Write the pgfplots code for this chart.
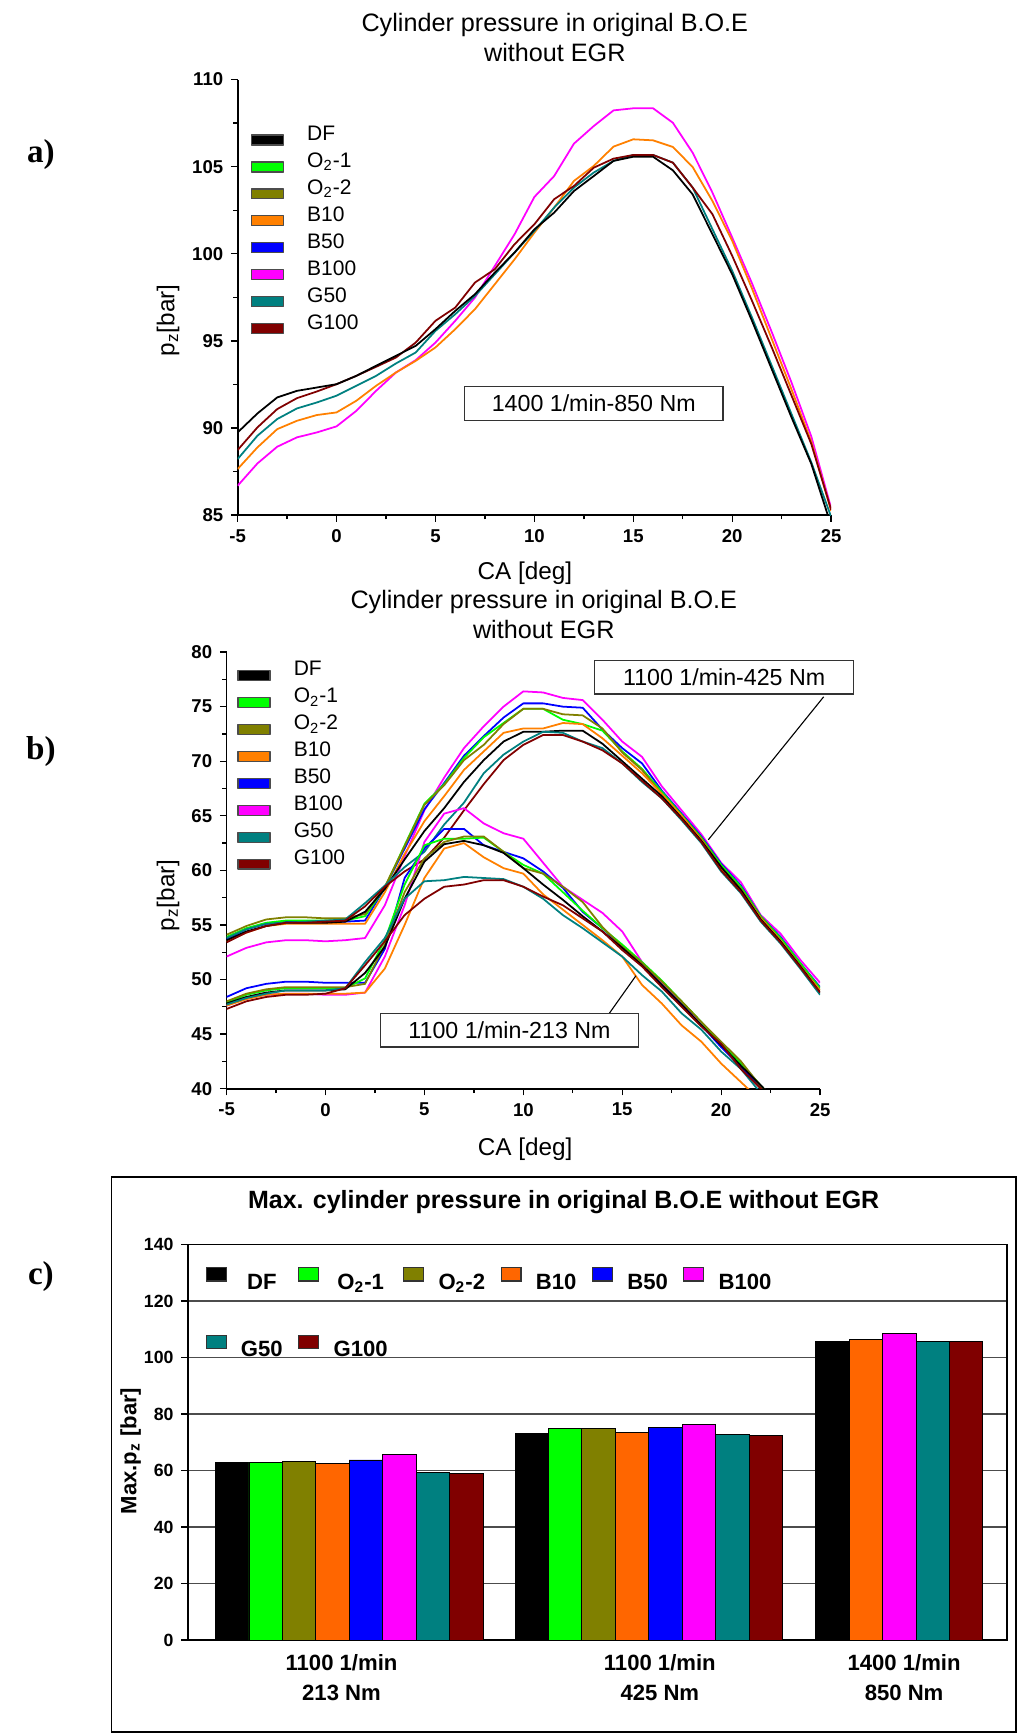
\documentclass[border=0pt]{standalone}
\usepackage{fontspec}
\setmainfont{Liberation Sans}
\newfontfamily\serifb{Liberation Serif}
\usepackage{pgfplots}
\usepackage{pgfplotstable}
\pgfplotsset{compat=1.18}

\definecolor{cDF}{RGB}{0,0,0}
\definecolor{cOa}{RGB}{0,255,0}
\definecolor{cOb}{RGB}{128,128,0}
\definecolor{cBa}{RGB}{255,128,0}
\definecolor{cBaBar}{RGB}{255,102,0}
\definecolor{cBb}{RGB}{0,0,255}
\definecolor{cBc}{RGB}{255,0,255}
\definecolor{cGa}{RGB}{0,128,128}
\definecolor{cGb}{RGB}{128,0,0}

% 1400 1/min - 850 Nm
\pgfplotstableread{
x   DF     B10    B100   G50    G100
-5  89.74  87.64  86.68  88.21  88.73
-4  90.83  88.88  87.96  89.55  90.03
-3  91.75  89.93  88.92  90.51  91.08
-2  92.13  90.41  89.46  91.12  91.71
-1  92.32  90.74  89.74  91.46  92.09
0   92.51  90.89  90.09  91.85  92.51
1   92.99  91.56  90.98  92.42  92.99
2   93.57  92.42  92.13  92.99  93.51
3   94.14  93.18  93.18  93.70  94.04
4   94.71  93.85  93.89  94.33  94.90
5   95.67  94.62  94.90  95.57  96.15
6   96.72  95.67  96.15  96.53  96.91
7   97.68  96.82  97.49  97.58  98.35
8   98.92  98.25  99.30  98.82  99.11
9   100.07 99.68  101.12 100.07 100.55
10  101.40 101.21 103.26 101.31 101.69
11  102.36 102.65 104.46 102.65 103.13
12  103.60 104.18 106.32 103.80 103.89
13  104.46 105.04 107.33 104.66 104.94
14  105.33 106.15 108.23 105.33 105.46
15  105.57 106.57 108.35 105.67 105.67
16  105.57 106.51 108.35 105.67 105.67
17  104.79 106.13 107.52 105.23 105.23
18  103.41 104.98 105.80 103.80 103.80
19  101.12 103.03 103.51 101.41 102.27
20  98.82  100.74 100.93 99.02  99.88
21  96.15  98.00  98.30  96.34  97.30
22  93.37  95.10  95.50  93.57  94.62
23  90.60  92.20  92.60  90.79  91.85
24  87.93  89.20  89.50  88.02  89.07
25  84.40  85.25  85.40  84.90  85.30
}\tblA

% 1100 1/min: h = 425 Nm, l = 213 Nm
\pgfplotstableread{
x   hDF  hOa  hOb  hBa  hBb  hBc  hGa  hGb  lDF  lOa  lOb  lBa  lBb  lBc  lGa  lGb
-5  53.6 53.9 54.1 53.5 53.7 52.1 53.8 53.4 47.8 47.9 48.0 47.6 48.4 47.6 47.7 47.3
-4  54.4 54.7 54.9 54.3 54.6 52.9 54.6 54.3 48.4 48.6 48.7 48.2 49.2 48.3 48.3 48.0
-3  54.9 55.2 55.5 54.9 55.1 53.4 55.1 54.9 48.8 49.0 49.1 48.6 49.6 48.6 48.7 48.4
-2  55.2 55.4 55.7 55.1 55.3 53.6 55.2 55.2 49.0 49.2 49.3 48.7 49.8 48.7 49.0 48.6
-1  55.2 55.4 55.7 55.1 55.3 53.6 55.3 55.2 49.0 49.2 49.3 48.7 49.8 48.7 49.0 48.6
0   55.2 55.4 55.6 55.1 55.3 53.5 55.4 55.3 49.0 49.2 49.3 48.7 49.7 48.6 49.0 48.7
1   55.3 55.4 55.6 55.1 55.3 53.6 55.5 55.4 49.1 49.2 49.3 48.7 49.7 48.6 49.2 49.2
2   56.2 55.8 56.0 55.1 55.4 53.8 57.0 56.7 50.6 50.1 49.6 48.8 49.7 48.8 51.6 51.3
3   58.3 58.4 58.5 58.0 58.4 56.8 58.6 58.5 53.0 53.6 53.2 51.0 52.8 52.1 53.8 53.5
4   61.0 62.3 62.2 61.5 62.0 61.3 60.3 59.9 57.4 58.7 58.0 55.0 59.3 56.8 57.4 55.9
5   63.6 66.1 66.0 64.5 65.6 65.5 61.7 61.0 60.8 62.3 61.1 59.3 62.0 62.6 59.0 57.4
6   65.7 67.9 67.8 66.8 68.0 68.5 64.2 63.0 62.4 62.9 62.6 62.0 63.8 65.2 59.1 58.5
7   68.1 70.3 70.1 69.2 70.5 71.2 66.2 65.5 62.7 62.9 63.1 62.5 63.8 65.7 59.4 58.7
8   70.1 72.2 71.5 70.9 72.3 73.2 68.9 67.9 62.3 63.0 63.1 61.2 62.3 64.3 59.3 59.1
9   71.8 73.5 73.4 72.6 74.0 75.0 70.6 70.1 61.6 61.7 61.7 60.2 61.7 63.4 59.2 59.1
10  72.7 74.8 74.8 73.0 75.3 76.4 71.8 71.5 60.2 60.5 60.2 59.7 61.1 62.9 58.5 58.5
11  72.7 74.8 74.8 73.0 75.3 76.3 72.7 72.4 58.7 59.7 59.7 57.8 59.9 60.7 57.4 57.6
12  72.8 73.8 74.3 73.5 75.0 75.8 72.6 72.4 57.3 58.0 58.5 56.4 58.4 58.5 55.9 56.8
13  72.8 73.4 74.2 73.4 74.9 75.6 71.8 71.8 55.8 56.3 57.1 55.0 56.2 57.3 54.7 55.6
14  71.6 72.8 73.0 72.1 72.9 73.8 71.2 71.0 54.4 54.7 54.8 53.6 54.7 56.1 53.4 54.4
15  70.0 70.9 70.8 70.5 71.2 71.8 69.8 69.8 52.9 53.2 53.0 52.1 53.0 54.4 52.1 52.7
16  68.4 69.3 69.2 68.9 69.8 70.4 68.1 68.2 51.3 51.6 51.5 49.5 51.3 51.6 50.4 51.2
17  66.8 67.2 67.0 67.0 67.3 67.7 66.6 66.6 49.5 49.9 49.8 47.8 49.5 49.6 48.9 49.3
18  64.8 65.1 65.0 65.0 65.2 65.5 64.6 64.7 47.7 48.0 48.0 45.8 47.7 47.8 46.9 47.5
19  62.7 63.0 62.9 62.8 63.1 63.3 62.5 62.6 45.8 46.1 46.1 44.3 45.8 46.0 45.4 45.7
20  60.3 60.5 60.3 60.2 60.6 60.7 59.9 60.0 44.0 44.1 44.3 42.3 43.8 44.1 43.4 44.1
21  58.2 58.5 58.3 58.2 58.6 58.9 57.9 58.0 42.1 42.3 42.5 40.6 42.0 42.3 41.8 41.8
22  55.5 55.8 55.7 55.6 55.8 55.9 55.3 55.4 40.3 40.3 40.2 38.9 40.1 40.3 39.6 40.0
23  53.5 53.8 53.6 53.6 53.9 54.2 53.3 53.4 38.4 38.4 38.3 nan  38.3 38.4 nan  38.2
24  51.2 51.5 51.3 51.2 51.5 51.8 51.0 51.1 nan  nan  nan  nan  nan  nan  nan  nan
25  48.8 49.2 49.0 49.0 49.3 49.7 48.6 48.8 nan  nan  nan  nan  nan  nan  nan  nan
}\tblB

\tikzset{
  boxlab/.style={draw=black!80, fill=white, line width=0.6pt, minimum width=117pt,
    minimum height=15.5pt, inner sep=0pt, font=\fontsize{10.5}{11}\selectfont},
}

\pgfplotsset{
  curveax/.style={
    scale only axis, width=268.5pt,
    xmin=-5, xmax=25, xtick={-5,0,...,25}, minor x tick num=1,
    axis x line*=bottom, axis y line*=left,
    axis line style={line width=0.8pt, -},
    tick align=outside, major tick length=3pt, minor tick length=2pt,
    tick style={line width=0.6pt, black},
    /pgf/number format/assume math mode=true,
    ticklabel style={font=\bfseries\fontsize{8.4}{9}\selectfont},
    label style={font=\fontsize{11}{12}\selectfont},
    legend cell align=left,
    legend image code/.code={\draw[##1, draw=black!70, line width=0.6pt] (0pt,-4.5pt) rectangle (14.5pt,0pt);},
    legend style={draw=none, fill=none, anchor=north west,
      font=\fontsize{9.5}{10}\selectfont, row sep=0pt,
      nodes={inner xsep=1.5pt, inner ysep=1.2pt, text height=7.3pt, text depth=2.5pt},
      /tikz/every odd column/.append style={column sep=9pt}},
    every axis plot/.append style={line width=0.8pt, line join=round},
  },
  barst/.style={ybar, bar width=30.25, bar shift=0pt, draw=black, line width=0.4pt, forget plot},
}

\begin{document}
\begin{tikzpicture}
\path (0,0) rectangle (460pt,784pt);

% ---------------- a) ----------------
\node[font=\fontsize{11.4}{13.5}\selectfont, align=center] at (251pt,767pt) {Cylinder pressure in original B.O.E\\without EGR};
\node[font=\serifb\bfseries\fontsize{15}{15}\selectfont] at (18.5pt,714pt) {a)};
\begin{axis}[curveax, height=197pt, at={(107.5pt,551pt)}, anchor=south west,
  ymin=85, ymax=110, ytick={85,90,...,110}, minor y tick num=1,
  xlabel={CA [deg]}, ylabel={p\textsubscript{z}[bar]},
  xlabel style={at={(axis description cs:0.484,-0.1345)}, anchor=center},
  ylabel style={at={(axis description cs:-0.117,0.447)}, anchor=center},
  legend style={at={(rel axis cs:0.01,0.915)}}]
\addlegendimage{fill=cDF}\addlegendentry{DF}
\addlegendimage{fill=cOa}\addlegendentry{O\textsubscript{2}-1}
\addlegendimage{fill=cOb}\addlegendentry{O\textsubscript{2}-2}
\addlegendimage{fill=cBa}\addlegendentry{B10}
\addlegendimage{fill=cBb}\addlegendentry{B50}
\addlegendimage{fill=cBc}\addlegendentry{B100}
\addlegendimage{fill=cGa}\addlegendentry{G50}
\addlegendimage{fill=cGb}\addlegendentry{G100}
\addplot[cBc, forget plot] table[y=B100] {\tblA};
\addplot[cBa, forget plot] table[y=B10] {\tblA};
\addplot[cGa, forget plot] table[y=G50] {\tblA};
\addplot[cGb, forget plot] table[y=G100] {\tblA};
\addplot[cDF, forget plot] table[y=DF] {\tblA};
\node[boxlab] at (axis cs:13,91.4) {1400 1/min-850 Nm};
\end{axis}

% ---------------- b) ----------------
\node[font=\fontsize{11.4}{13.5}\selectfont, align=center] at (246pt,506pt) {Cylinder pressure in original B.O.E\\without EGR};
\node[font=\serifb\bfseries\fontsize{15}{15}\selectfont] at (18.5pt,444pt) {b)};
\begin{axis}[curveax, height=197.5pt, at={(102.5pt,291.5pt)}, anchor=south west,
  ymin=40, ymax=80, ytick={40,45,...,80}, minor y tick num=1, clip mode=individual,
  xlabel={CA [deg]}, ylabel={p\textsubscript{z}[bar]},
  xlabel style={at={(axis description cs:0.503,-0.139)}, anchor=center},
  ylabel style={at={(axis description cs:-0.0987,0.443)}, anchor=center},
  legend style={at={(rel axis cs:0.006,1.0)}}]
\addlegendimage{fill=cDF}\addlegendentry{DF}
\addlegendimage{fill=cOa}\addlegendentry{O\textsubscript{2}-1}
\addlegendimage{fill=cOb}\addlegendentry{O\textsubscript{2}-2}
\addlegendimage{fill=cBa}\addlegendentry{B10}
\addlegendimage{fill=cBb}\addlegendentry{B50}
\addlegendimage{fill=cBc}\addlegendentry{B100}
\addlegendimage{fill=cGa}\addlegendentry{G50}
\addlegendimage{fill=cGb}\addlegendentry{G100}
\addplot[cBc, forget plot] table[y=hBc] {\tblB};
\addplot[cBb, forget plot] table[y=hBb] {\tblB};
\addplot[cOa, forget plot] table[y=hOa] {\tblB};
\addplot[cOb, forget plot] table[y=hOb] {\tblB};
\addplot[cBa, forget plot] table[y=hBa] {\tblB};
\addplot[cDF, forget plot] table[y=hDF] {\tblB};
\addplot[cGa, forget plot] table[y=hGa] {\tblB};
\addplot[cGb, forget plot] table[y=hGb] {\tblB};
\addplot[cBc, forget plot] table[y=lBc] {\tblB};
\addplot[cBb, forget plot] table[y=lBb] {\tblB};
\addplot[cOa, forget plot] table[y=lOa] {\tblB};
\addplot[cOb, forget plot] table[y=lOb] {\tblB};
\addplot[cBa, forget plot] table[y=lBa] {\tblB};
\addplot[cDF, forget plot] table[y=lDF] {\tblB};
\addplot[cGa, forget plot] table[y=lGa] {\tblB};
\addplot[cGb, forget plot] table[y=lGb] {\tblB};
\draw[line width=0.5pt] (axis cs:25.18,75.9) -- (axis cs:19.35,62.8);
\draw[line width=0.5pt] (axis cs:14.19,46.5) -- (axis cs:15.69,50.34);
\node[boxlab, minimum height=15.1pt] at (axis cs:20.15,77.7) {1100 1/min-425 Nm};
\node[boxlab, minimum height=15.1pt] at (axis cs:9.3,45.35) {1100 1/min-213 Nm};
\end{axis}

% ---------------- c) ----------------
\draw[line width=0.7pt] (50.5pt,0.35pt) rectangle (459.65pt,251.5pt);
\node[font=\bfseries\fontsize{11.3}{12}\selectfont] at (255pt,240pt) {Max. cylinder pressure in original B.O.E without EGR};
\node[font=\serifb\bfseries\fontsize{15}{15}\selectfont] at (18.5pt,206.5pt) {c)};
\begin{axis}[scale only axis, width=370.5pt, height=179pt, at={(85pt,42pt)}, anchor=south west,
  xmin=170, xmax=911, ymin=0, ymax=140, ytick={0,20,...,140},
  xtick={309,597,818},
  xticklabels={{1100 1/min\\213 Nm},{1100 1/min\\425 Nm},{1400 1/min\\850 Nm}},
  x tick label style={align=center, font=\bfseries\fontsize{10}{13.5}\selectfont},
  xtick style={draw=none}, ytick pos=left, tick align=outside, major tick length=3pt,
  tick style={black, line width=0.6pt},
  /pgf/number format/assume math mode=true,
  y tick label style={font=\bfseries\fontsize{8}{9}\selectfont},
  axis line style={line width=0.7pt},
  ymajorgrids, major grid style={black!70, line width=0.6pt},
  ylabel={Max.p\textsubscript{z} [bar]},
  ylabel style={font=\bfseries\fontsize{10}{11}\selectfont, at={(axis description cs:-0.070,0.478)}, anchor=center},
  legend columns=6,
  legend image code/.code={\draw[#1, draw=black!80, line width=0.5pt] (0pt,1pt) rectangle (9pt,7pt);},
  legend style={at={(rel axis cs:0.013,0.955)}, anchor=north west, draw=none, fill=none,
    font=\bfseries\fontsize{10}{10}\selectfont, row sep=17pt,
    /tikz/every odd column/.append style={column sep=4.5pt},
    /tikz/every even column/.append style={column sep=5pt}}]
\addlegendimage{fill=cDF}\addlegendentry{DF}
\addlegendimage{fill=cOa}\addlegendentry{O\textsubscript{2}-1}
\addlegendimage{fill=cOb}\addlegendentry{O\textsubscript{2}-2}
\addlegendimage{fill=cBaBar}\addlegendentry{B10}
\addlegendimage{fill=cBb}\addlegendentry{B50}
\addlegendimage{fill=cBc}\addlegendentry{B100}
\addlegendimage{fill=cGa}\addlegendentry{G50}
\addlegendimage{fill=cGb}\addlegendentry{G100}
\addplot[barst, fill=cDF]    coordinates {(210.1,62.9) (481.1,73.1) (753.1,105.6)};
\addplot[barst, fill=cOa]    coordinates {(240.4,62.9) (511.4,74.75)};
\addplot[barst, fill=cOb]    coordinates {(270.6,63.1) (541.6,74.75)};
\addplot[barst, fill=cBaBar] coordinates {(300.9,62.5) (571.9,73.5) (783.4,106.5)};
\addplot[barst, fill=cBb]    coordinates {(331.1,63.75) (602.1,75.25)};
\addplot[barst, fill=cBc]    coordinates {(361.4,65.6) (632.4,76.25) (813.6,108.4)};
\addplot[barst, fill=cGa]    coordinates {(391.6,59.4) (662.6,72.75) (843.9,105.6)};
\addplot[barst, fill=cGb]    coordinates {(421.9,59.1) (692.9,72.4) (874.1,105.6)};
\end{axis}
\end{tikzpicture}
\end{document}
